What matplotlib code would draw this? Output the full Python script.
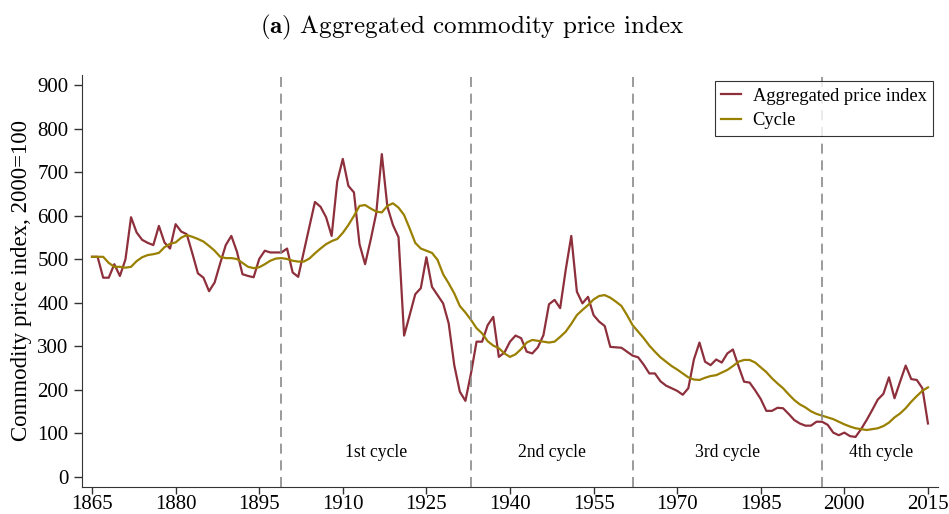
import numpy as np
import matplotlib
matplotlib.use("Agg")
import matplotlib.pyplot as plt

# annual data, 1865-2015
years = np.arange(1865, 2016)

price_index = [
    506, 506, 458, 458, 489, 462, 500, 597, 562, 545,  # 1865-1874
    538, 533, 577, 539, 525, 581, 564, 558, 514, 468,  # 1875-1884
    458, 427, 447, 491, 533, 554, 518, 466, 462, 459,  # 1885-1894
    501, 520, 516, 516, 516, 525, 470, 460, 518, 575,  # 1895-1904
    632, 621, 597, 554, 679, 731, 669, 654, 535, 489,  # 1905-1914
    545, 606, 742, 621, 579, 551, 325, 372, 420, 434,  # 1915-1924
    505, 437, 418, 399, 353, 257, 196, 175, 238, 311,  # 1925-1934
    311, 349, 368, 276, 286, 311, 325, 319, 288, 284,  # 1935-1944
    298, 326, 397, 407, 388, 476, 554, 426, 399, 414,  # 1945-1954
    372, 357, 347, 299, 298, 297, 288, 279, 275, 258,  # 1955-1964
    238, 238, 220, 210, 204, 198, 189, 204, 270, 309,  # 1965-1974
    265, 257, 270, 263, 284, 293, 255, 219, 217, 199,  # 1975-1984
    179, 152, 152, 159, 158, 145, 131, 123, 118, 118,  # 1985-1994
    127, 127, 120, 102, 96, 102, 94, 92, 110, 131,     # 1995-2004
    154, 178, 191, 229, 181, 219, 256, 225, 223, 204,  # 2005-2014
    123,                                               # 2015
]

cycle = [
    506, 506, 506, 492, 483, 483, 481, 483, 496, 505,  # 1865-1874
    510, 512, 515, 528, 536, 539, 550, 556, 552, 547,  # 1875-1884
    541, 531, 520, 506, 503, 503, 501, 492, 483, 480,  # 1885-1894
    482, 489, 497, 502, 503, 501, 497, 495, 495, 502,  # 1895-1904
    514, 525, 535, 542, 547, 561, 579, 600, 623, 625,  # 1905-1914
    617, 610, 608, 623, 629, 619, 602, 571, 538, 525,  # 1915-1924
    520, 515, 499, 466, 445, 422, 393, 378, 361, 342,  # 1925-1934
    330, 312, 302, 296, 284, 276, 282, 294, 309, 315,  # 1935-1944
    313, 311, 309, 311, 322, 334, 352, 372, 384, 395,  # 1945-1954
    408, 416, 418, 412, 403, 393, 372, 349, 334, 319,  # 1955-1964
    302, 288, 275, 265, 255, 247, 238, 229, 224, 223,  # 1965-1974
    228, 232, 234, 240, 246, 255, 265, 269, 269, 263,  # 1975-1984
    252, 241, 227, 215, 204, 190, 177, 167, 160, 151,  # 1985-1994
    145, 141, 137, 133, 127, 121, 116, 112, 110, 108,  # 1995-2004
    110, 112, 117, 125, 137, 146, 158, 173, 186, 198,  # 2005-2014
    206,                                               # 2015
]

cycle_breaks = [1899, 1933, 1962, 1996]
cycle_names = ["1st cycle", "2nd cycle", "3rd cycle", "4th cycle"]
cycle_label_x = [1916, 1947.5, 1979, 2006.5]

plt.rcParams['font.family'] = ['Liberation Serif', 'DejaVu Serif']
plt.rcParams['mathtext.fontset'] = 'cm'

fig = plt.figure(figsize=(9.49, 5.14), dpi=100)
ax = fig.add_axes([0.0861, 0.0531, 0.9023, 0.8009])

ax.plot(years, price_index, color='#8e2f3c', lw=1.6, label='Aggregated price index')
ax.plot(years, cycle, color='#9a8000', lw=1.6, label='Cycle')

for b in cycle_breaks:
    ax.axvline(b, color='#8a8a8a', lw=1.2, ls=(0, (6, 4)))
for name, xc in zip(cycle_names, cycle_label_x):
    ax.text(xc, 57, name, ha='center', va='center', fontsize=12.7)

ax.set_xlim(1863.15, 2016.8)
ax.set_ylim(-22.3, 923.7)
ax.set_xticks(np.arange(1865, 2016, 15))
ax.set_yticks(np.arange(0, 901, 100))
ax.tick_params(labelsize=15, length=6, width=1, color='#333333')
ax.tick_params(axis='x', pad=1, length=5)
for s in ['top', 'right']:
    ax.spines[s].set_visible(False)
for s in ['left', 'bottom']:
    ax.spines[s].set_color('#333333')
ax.set_ylabel('Commodity price index, 2000=100', fontsize=16.5, labelpad=4)

leg = ax.legend(loc='upper right', bbox_to_anchor=(0.994, 0.985), borderaxespad=0,
                fontsize=13.3, frameon=True, fancybox=False, handlelength=1.1,
                borderpad=0.35, labelspacing=0.4, handletextpad=0.6)
leg.get_frame().set_edgecolor('black')
leg.get_frame().set_linewidth(0.8)

fig.text(0.497, 0.9475, r'$\mathbf{(a)}$ Aggregated commodity price index',
         ha='center', va='center', fontsize=18, family='cmr10')

fig.savefig('out.png', dpi=100)
